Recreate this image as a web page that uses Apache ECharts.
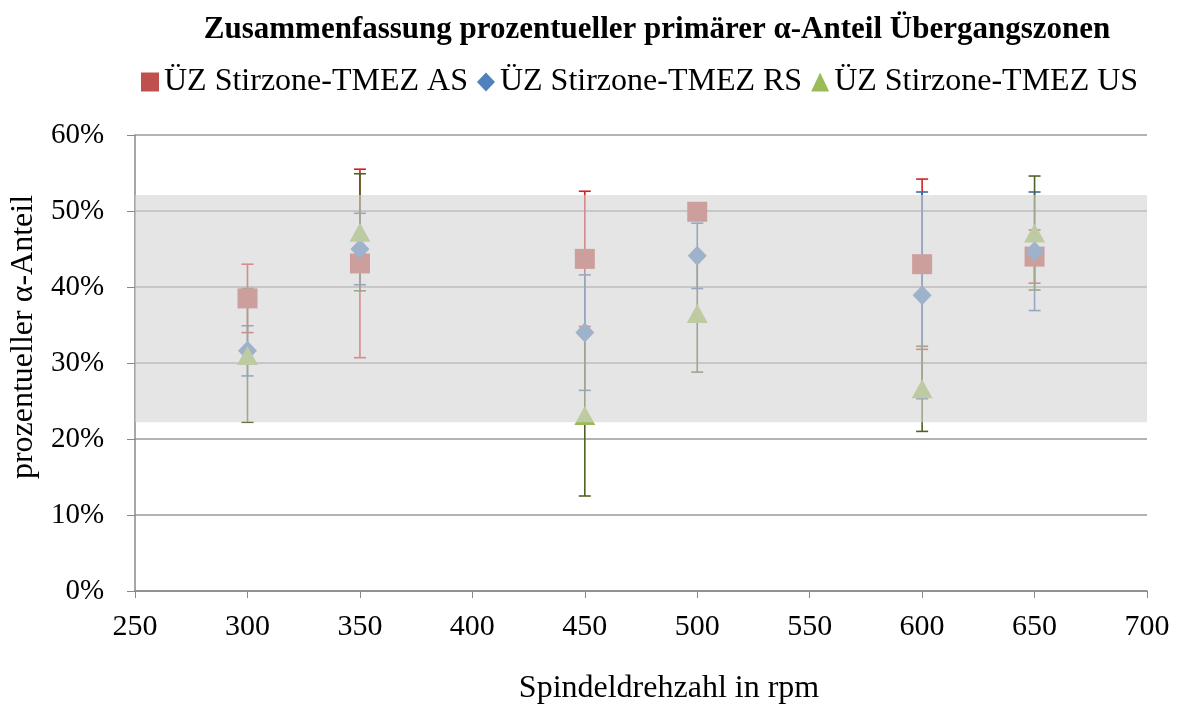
<!DOCTYPE html>
<html>
<head>
<meta charset="utf-8">
<script src="https://cdn.jsdelivr.net/npm/echarts@6/dist/echarts.min.js"></script>
<style>html,body{margin:0;padding:0;background:#fff;}#c{width:1182px;height:713px;}</style>
</head>
<body>
<div id="c"></div>
<script>
// Data (values in percent)
const rpm = [300, 350, 450, 500, 600, 650];
const seriesNames = ['ÜZ Stirzone-TMEZ AS', 'ÜZ Stirzone-TMEZ RS', 'ÜZ Stirzone-TMEZ US'];
const asMean = [38.5, 43.1, 43.7, 49.9, 43.0, 44.0];
const asErr  = [4.5, 12.4, 8.9, 0.5, 11.2, 3.5];
const rsMean = [31.6, 45.0, 34.0, 44.1, 38.9, 44.7];
const rsErr  = [3.3, 4.7, 7.6, 4.3, 13.6, 7.8];
const usMean = [31.0, 47.2, 23.1, 36.5, 26.6, 47.1];
const usErr  = [8.8, 7.7, 10.6, 7.7, 5.6, 7.5];
const bandRange = [22.2, 52.1];
const xTicks = [250, 300, 350, 400, 450, 500, 550, 600, 650, 700];
const yTicks = [0, 10, 20, 30, 40, 50, 60];

const FONT = '"Liberation Serif", "Times New Roman", serif';
const markerColors = ['#C0504D', '#4F81BD', '#9BBB59'];
const errColors = ['#d42020', '#3a68a8', '#4f6228'];
const symbols = ['rect', 'diamond', 'triangle'];
const symbolSizes = [20, [19, 20], [21, 19]];
const means = [asMean, rsMean, usMean];
const errs = [asErr, rsErr, usErr];

function errSeries(i) {
  return {
    type: 'custom',
    name: seriesNames[i] + ' err',
    z: 2,
    silent: true,
    data: rpm.map((x, k) => [x, means[i][k], errs[i][k]]),
    renderItem: function (params, api) {
      const x = api.value(0), y = api.value(1), e = api.value(2);
      const top = api.coord([x, y + e]);
      const bot = api.coord([x, y - e]);
      const hw = 6;
      const st = { stroke: errColors[i], lineWidth: 1.6 };
      return {
        type: 'group',
        children: [
          { type: 'line', shape: { x1: top[0], y1: top[1], x2: bot[0], y2: bot[1] }, style: st },
          { type: 'line', shape: { x1: top[0] - hw, y1: top[1], x2: top[0] + hw, y2: top[1] }, style: st },
          { type: 'line', shape: { x1: bot[0] - hw, y1: bot[1], x2: bot[0] + hw, y2: bot[1] }, style: st }
        ]
      };
    }
  };
}

function scatterSeries(i) {
  return {
    type: 'scatter',
    name: seriesNames[i],
    z: 3 + i,
    symbol: symbols[i],
    symbolSize: symbolSizes[i],
    itemStyle: { color: markerColors[i], opacity: 1 },
    data: rpm.map((x, k) => [x, means[i][k]])
  };
}

const series = [errSeries(0), errSeries(1), errSeries(2), scatterSeries(0), scatterSeries(1), scatterSeries(2)];
series.push({
  type: 'custom',
  name: 'band',
  z: 20,
  silent: true,
  data: [[xTicks[0], bandRange[0], xTicks[xTicks.length - 1], bandRange[1]]],
  renderItem: function (params, api) {
    const p1 = api.coord([api.value(0), api.value(3)]);
    const p2 = api.coord([api.value(2), api.value(1)]);
    return {
      type: 'rect',
      shape: { x: p1[0], y: p1[1], width: p2[0] - p1[0], height: p2[1] - p1[1] },
      style: { fill: 'rgba(212,212,212,0.6)' }
    };
  }
});

const chart = echarts.init(document.getElementById('c'), null, { renderer: 'canvas' });
chart.setOption({
  animation: false,
  backgroundColor: '#ffffff',
  textStyle: { fontFamily: FONT },
  title: {
    text: 'Zusammenfassung prozentueller primärer α-Anteil Übergangszonen',
    left: 652, textAlign: 'center', top: 9,
    textStyle: { fontFamily: FONT, fontSize: 31, fontWeight: 'bold', color: '#000' }
  },
  legend: {
    top: 61, left: 136,
    itemGap: 9, itemWidth: 18, itemHeight: 19,
    textStyle: { fontFamily: FONT, fontSize: 32, color: '#000' },
    data: [
      { name: seriesNames[0], icon: 'rect', itemStyle: { color: markerColors[0] } },
      { name: seriesNames[1], icon: 'diamond', itemStyle: { color: markerColors[1] } },
      { name: seriesNames[2], icon: 'triangle', itemStyle: { color: markerColors[2] } }
    ]
  },
  grid: { left: 134, right: 35, top: 135, bottom: 122 },
  xAxis: {
    type: 'value', min: xTicks[0], max: xTicks[xTicks.length - 1], interval: 50,
    name: 'Spindeldrehzahl in rpm', nameLocation: 'middle', nameGap: 82,
    nameTextStyle: { fontFamily: FONT, fontSize: 32, color: '#000', padding: [0, 0, 0, 56] },
    axisLine: { lineStyle: { color: '#888', width: 1.5 } },
    axisTick: { show: true, length: 7, inside: false, lineStyle: { color: '#888' } },
    axisLabel: { fontFamily: FONT, fontSize: 30, color: '#000', margin: 21 },
    splitLine: { show: false }
  },
  yAxis: {
    type: 'value', min: yTicks[0], max: yTicks[yTicks.length - 1], interval: 10,
    name: 'prozentueller α-Anteil', nameLocation: 'middle', nameGap: 86, nameRotate: 90,
    nameTextStyle: { fontFamily: FONT, fontSize: 32, color: '#000', padding: [0, 0, 0, 52] },
    axisLine: { show: true, lineStyle: { color: '#888', width: 1.5 } },
    axisTick: { show: true, length: 8, lineStyle: { color: '#888' } },
    axisLabel: { fontFamily: FONT, fontSize: 29, color: '#000', margin: 31, formatter: '{value}%' },
    splitLine: { show: true, lineStyle: { color: '#9a9a9a', width: 1.5 } }
  },
  series: series
});
</script>
</body>
</html>
